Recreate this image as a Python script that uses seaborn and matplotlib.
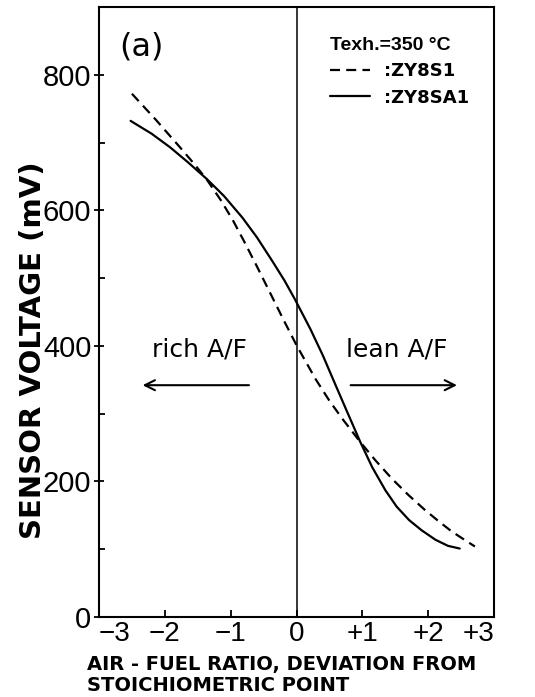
import numpy as np
import pandas as pd
import matplotlib
matplotlib.use("Agg")
import matplotlib.pyplot as plt
import seaborn as sns

# ---- data ----
s1_x = [-2.50, -2.14, -1.77, -1.55, -1.36, -1.15, -0.97, -0.80, -0.60, -0.41, -0.20, 0.00,
        0.29, 0.50, 0.70, 0.97, 1.20, 1.45, 1.70, 1.95, 2.15, 2.36, 2.55, 2.71]
s1_y = [772, 734, 693, 668, 645, 615, 586, 555, 517, 480, 439, 401,
        351, 319, 292, 258, 231, 204, 180, 158, 142, 126, 114, 104]
sa1_x = [-2.52, -2.20, -1.92, -1.65, -1.36, -1.10, -0.82, -0.60, -0.36, -0.18, -0.02, 0.21,
         0.40, 0.55, 0.75, 0.97, 1.15, 1.35, 1.52, 1.71, 1.90, 2.11, 2.30, 2.48]
sa1_y = [732, 713, 693, 671, 646, 621, 589, 560, 524, 496, 468, 425,
         386, 352, 307, 258, 221, 187, 163, 143, 128, 114, 105, 101]
sensor_names = ["ZY8S1", "ZY8SA1"]
legend_labels = [":ZY8S1", ":ZY8SA1"]
legend_title = "Texh.=350 °C"
x_ticks = [-3, -2, -1, 0, 1, 2, 3]
x_ticklabels = ["\u22123", "\u22122", "\u22121", "0", "+1", "+2", "+3"]
y_ticks = [0, 200, 400, 600, 800]
y_minor = [100, 300, 500, 700]
y_ticklabels = ["0", "200", "400", "600", "800"]

df = pd.DataFrame({
    "afr": s1_x + sa1_x,
    "mv": s1_y + sa1_y,
    "sensor": [sensor_names[0]] * len(s1_x) + [sensor_names[1]] * len(sa1_x),
})

sns.set_theme(style="white")
plt.rcParams["font.family"] = ["DejaVu Sans"]
for k in ["text.color", "axes.labelcolor", "xtick.color", "ytick.color", "axes.edgecolor"]:
    plt.rcParams[k] = "black"

fig = plt.figure(figsize=(5.35, 6.97), dpi=100)
ax = fig.add_axes([99 / 535, 1 - 617 / 697, (494 - 99) / 535, (617 - 7) / 697])

sns.lineplot(data=df, x="afr", y="mv", hue="sensor", style="sensor",
             hue_order=sensor_names, style_order=sensor_names,
             palette=["black", "black"],
             dashes={"ZY8S1": (4.5, 2.8), "ZY8SA1": ""},
             sort=False, estimator=None, ax=ax, legend="full")
for ln in ax.lines:
    ln.set_linewidth(1.6)

ax.axvline(0, color="black", lw=1.1)

ax.set_xlim(-3, 3)
ax.set_ylim(0, 900)

ax.set_xticks(x_ticks)
ax.set_xticklabels(x_ticklabels, fontfamily="Liberation Sans", fontsize=20)
ax.set_yticks(y_ticks)
ax.set_yticks(y_minor, minor=True)
ax.set_yticklabels(y_ticklabels, fontfamily="Liberation Sans", fontsize=21)
xl = ax.get_xticklabels()
xl[0].set_horizontalalignment("left")
xl[-1].set_horizontalalignment("right")

ax.tick_params(axis="x", which="major", direction="in", length=5, width=1.3,
               pad=3, color="black", bottom=True, top=False)
ax.tick_params(axis="y", which="major", direction="inout", length=7, width=1.3,
               pad=2, color="black", left=True, right=False)
ax.tick_params(axis="y", which="minor", direction="in", length=4, width=1.3,
               color="black", left=True, right=False)

for sp in ax.spines.values():
    sp.set_visible(True)
    sp.set_color("black")
    sp.set_linewidth(1.5)

ax.set_ylabel("SENSOR VOLTAGE (mV)", fontsize=21, fontweight="bold", color="black")
ax.yaxis.set_label_coords(-0.132, 0.438)
ax.set_xlabel("AIR - FUEL RATIO, DEVIATION FROM\nSTOICHIOMETRIC POINT",
              fontsize=14, fontweight="bold", ha="left", multialignment="left",
              linespacing=1.12, color="black")
ax.xaxis.set_label_coords(-0.03, -0.062)

# legend
handles, labels = ax.get_legend_handles_labels()
hmap = dict(zip(labels, handles))
leg = ax.legend([hmap[n] for n in sensor_names], legend_labels,
                title=legend_title, loc="upper left", bbox_to_anchor=(0.585, 0.951),
                frameon=False, borderpad=0, borderaxespad=0, handlelength=2.2,
                handletextpad=0.8, labelspacing=0.46,
                prop={"family": "DejaVu Sans", "weight": "bold", "size": 13},
                alignment="left")
leg.get_title().set_fontfamily("Liberation Sans")
leg.get_title().set_fontweight("bold")
leg.get_title().set_fontsize(14)
leg.get_title().set_color("black")
for t in leg.get_texts():
    t.set_color("black")
for h in leg.get_lines():
    h.set_linewidth(1.6)

ax.text(-2.35, 841, "(a)", fontsize=23, ha="center", va="center", color="black")
ax.text(-1.47, 395, "rich A/F", fontsize=18, ha="center", va="center", color="black")
ax.text(1.53, 395, "lean A/F", fontsize=18, ha="center", va="center", color="black")
ax.annotate("", xy=(-2.38, 342), xytext=(-0.68, 342),
            arrowprops=dict(arrowstyle="->,head_length=0.6,head_width=0.3", lw=1.5, color="black"))
ax.annotate("", xy=(2.48, 342), xytext=(0.78, 342),
            arrowprops=dict(arrowstyle="->,head_length=0.6,head_width=0.3", lw=1.5, color="black"))

fig.savefig("out.png", dpi=100, facecolor="white")
